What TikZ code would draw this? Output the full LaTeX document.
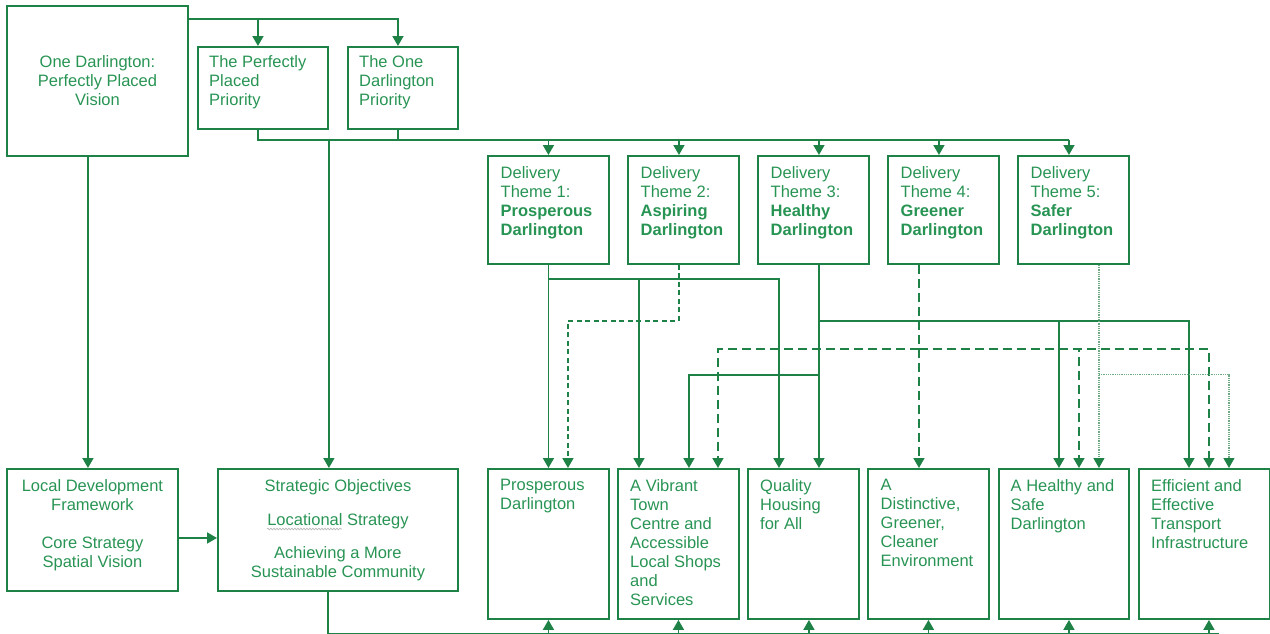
\documentclass[tikz,border=0pt]{standalone}
\usepackage{fontspec}
\setmainfont{Liberation Sans}
\usetikzlibrary{arrows.meta,decorations.pathmorphing}
\definecolor{dgline}{RGB}{30,130,70}
\definecolor{dgtext}{RGB}{40,148,84}
\definecolor{dgdot}{RGB}{110,170,130}
\newcommand{\bodyfont}{\fontsize{16.5}{19.1}\selectfont}
\tikzset{
	>={Triangle[width=11pt,length=10pt]},
	box/.style={draw=dgline, line width=1.9pt, inner sep=0pt, anchor=north west},
	lbl/.style={text=dgtext, font=\bodyfont, inner sep=0pt, anchor=north west, align=left},
	lblc/.style={lbl, anchor=north, align=center},
	conn/.style={draw=dgline, line width=1.7pt},
	arr/.style={conn, ->},
	dashS/.style={arr, dash pattern=on 5pt off 3.5pt},
	dashL/.style={arr, dash pattern=on 9pt off 5pt},
	dotS/.style={conn, draw=dgdot, line width=1.1pt, dash pattern=on 1pt off 0.8pt,
		-{Triangle[width=11pt,length=10pt,color=dgline]}},
	squig/.style={draw=gray!60, line width=0.6pt, decorate, decoration={snake, amplitude=0.9pt, segment length=3pt}},
}

\begin{document}
\begin{tikzpicture}[x=1pt, y=-1pt]
	\useasboundingbox (0,0) rectangle (1270,633);
	
	% ------------------- Vision and priorities -------------------
	\node[box, minimum width=181pt, minimum height=150pt, align=center, text=dgtext, font=\bodyfont] (vis) at (6,5) {One Darlington:\\Perfectly Placed\\Vision};
	
	\node[box, minimum width=130pt, minimum height=82pt] (ppp) at (197,46) {};
	\node[lbl] (pppt) at ([shift={(12,9)}]ppp.north west) {The Perfectly\\Placed\\Priority};
	
	\node[box, minimum width=110pt, minimum height=82pt] (odp) at (347,46) {};
	\node[lbl] (odpt) at ([shift={(12,9)}]odp.north west) {The One\\Darlington\\Priority};
	
	% ------------------- Delivery themes -------------------
	\foreach \n/\x/\w/\num/\name in {tm1/487/121/1/Prosperous, tm2/627/111/2/Aspiring, tm3/757/111/3/Healthy, tm4/887/111/4/Greener, tm5/1017/111/5/Safer} {
		\node[box, minimum width=\w pt, minimum height=108pt] (\n) at (\x,155) {};
		\node[lbl] (\n t) at ([shift={(13.5,11)}]\n.north west) {Delivery\\Theme \num:\\\textbf{\name}\\\textbf{Darlington}};
	}
	
	% ------------------- LDF and strategic objectives -------------------
	\node[box, minimum width=171pt, minimum height=122pt] (ldf) at (6,468) {};
	\node[lblc] (ldft) at ([yshift=-11pt]ldf.north) {Local Development\\Framework\\[19pt]Core Strategy\\Spatial Vision};
	
	\node[box, minimum width=240pt, minimum height=122pt] (so) at (217,468) {};
	\node[lblc] (sot) at ([yshift=-11pt]so.north) {Strategic Objectives\\[15pt]Locational Strategy\\[14pt]Achieving a More\\Sustainable Community};
	% spell-check squiggle under "Locational"
	\draw[squig] ([shift={(-71,50)}]sot.north) -- ++(75,0);
	
	% ------------------- Outcomes -------------------
	\node[box, minimum width=121pt, minimum height=150pt] (pros) at (487,468) {};
	\node[lbl] (prost) at ([shift={(13,11)}]pros.north west) {Prosperous\\Darlington};
	
	\node[box, minimum width=121pt, minimum height=150pt] (vibr) at (617,468) {};
	\node[lbl] (vibrt) at ([shift={(13,11)}]vibr.north west) {A Vibrant\\Town\\Centre and\\Accessible\\Local Shops\\and\\Services};
	
	\node[box, minimum width=111pt, minimum height=150pt] (qual) at (747,468) {};
	\node[lbl] (qualt) at ([shift={(13,11)}]qual.north west) {Quality\\Housing\\for All};
	
	\node[box, minimum width=121pt, minimum height=150pt] (dist) at (867,468) {};
	\node[lbl] (distt) at ([shift={(13.5,11)}]dist.north west) {A\\Distinctive,\\Greener,\\Cleaner\\Environment};
	
	\node[box, minimum width=130pt, minimum height=150pt] (hsd) at (998,468) {};
	\node[lbl] (hsdt) at ([shift={(12.5,11)}]hsd.north west) {A Healthy and\\Safe\\Darlington};
	
	\node[box, minimum width=131pt, minimum height=150pt] (eff) at (1138,468) {};
	\node[lbl] (efft) at ([shift={(13,11)}]eff.north west) {Efficient and\\Effective\\Transport\\Infrastructure};
	
	% ------------------- Top connectors -------------------
	\draw[arr] ([yshift=-14pt]vis.north east) -| ([xshift=-5pt]ppp.north);
	\draw[arr] ([yshift=-14pt]vis.north east) -| ([xshift=-5pt]odp.north);
	\draw[arr] ([xshift=-4.5pt]ldf.north |- vis.south) -- ([xshift=-4.5pt]ldf.north);
	\draw[arr] ([yshift=-8pt]ldf.east) -- ([yshift=-8pt]ldf.east -| so.west);
	
	\coordinate (bus) at (0,140);
	\draw[conn] ([xshift=-5pt]ppp.south) |- ([xshift=-4.5pt]tm5.north |- bus);
	\draw[conn] ([xshift=-5pt]odp.south) -- ([xshift=-5pt]odp.south |- bus);
	\draw[arr] (ppp.south east |- bus) -- (ppp.south east |- so.north);
	\foreach \t/\dx in {tm1/0, tm2/-4.5, tm3/5.5, tm4/-4.5, tm5/-4.5}
		\draw[arr] ([xshift=\dx pt]\t.north |- bus) -- ([xshift=\dx pt]\t.north);
	
	% ------------------- Themes to outcomes -------------------
	% theme 1
	\draw[arr] (tm1.south) -- (tm1.south |- pros.north);
	\draw[arr] ([yshift=-14pt]tm1.south) -| ([xshift=-39.5pt]vibr.north);
	\draw[arr] ([yshift=-14pt]tm1.south) -| ([xshift=-24.5pt]qual.north);
	% theme 2
	\draw[dashS] ([xshift=-4.5pt]tm2.south) -- ++(0,56) -| ([xshift=19.5pt]pros.north);
	% theme 3
	\draw[arr] ([xshift=5.5pt]tm3.south) -- ([xshift=5.5pt]tm3.south |- qual.north);
	\draw[arr] ([xshift=5.5pt,yshift=-56pt]tm3.south) -| ([xshift=-5pt]hsd.north);
	\draw[arr] ([xshift=5.5pt,yshift=-56pt]tm3.south) -| ([xshift=-15.5pt]eff.north);
	\draw[arr] ([xshift=5.5pt,yshift=-110pt]tm3.south) -| ([xshift=10.5pt]vibr.north);
	% theme 4
	\draw[dashL] ([xshift=-24.5pt]tm4.south) -- ([xshift=-24.5pt]tm4.south |- dist.north);
	\draw[dashL] ([xshift=-24.5pt,yshift=-84pt]tm4.south) -| ([xshift=39.5pt]vibr.north);
	\draw[dashL] ([xshift=-24.5pt,yshift=-84pt]tm4.south) -| ([xshift=15pt]hsd.north);
	\draw[dashL] ([xshift=-24.5pt,yshift=-84pt]tm4.south) -| ([xshift=4.5pt]eff.north);
	% theme 5
	\draw[dotS] ([xshift=25.5pt]tm5.south) -- ([xshift=25.5pt]tm5.south |- hsd.north);
	\draw[dotS] ([xshift=25.5pt,yshift=-110pt]tm5.south) -| ([xshift=24.5pt]eff.north);
	
	% ------------------- Bottom feedback line -------------------
	\draw[conn] ([xshift=-10pt]so.south) -- ++(0,42) coordinate (base) -- ++(891,0);
	\foreach \b/\dx in {pros/0, vibr/0, qual/5.5, dist/0, hsd/5, eff/4.5}
		\draw[arr] ([xshift=\dx pt]\b.south |- base) -- ([xshift=\dx pt]\b.south);
	
\end{tikzpicture}
\end{document}
